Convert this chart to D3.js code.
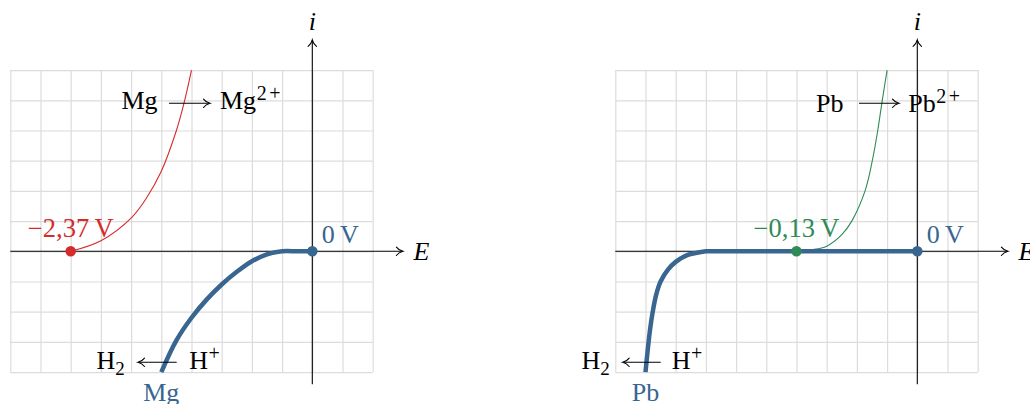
<!DOCTYPE html>
<html>
<head>
<meta charset="utf-8">
<script src="https://cdn.jsdelivr.net/npm/d3@7/dist/d3.min.js"></script>
<style>
  html, body { margin: 0; padding: 0; background: #fff; }
  svg { display: block; }
  text { font-family: "Liberation Serif", "DejaVu Serif", serif; }
</style>
</head>
<body>
<svg id="chart" width="1030" height="404"></svg>
<script>
// Grid ticks (in grid units) shared by both panels
const gridXTicks = [-10, -9, -8, -7, -6, -5, -4, -3, -2, -1, 0, 1, 2];
const gridYTicks = [-4, -3, -2, -1, 0, 1, 2, 3, 4, 5, 6];
const axisXExtent = [-10, 3];
const axisYExtent = [-4.4, 7];

// Magnesium panel: oxidation of Mg and reduction of H+ on Mg
const mgOxidation = [[-8, 0], [-7, 0.35], [-6, 1.1], [-5.5, 1.75], [-5, 2.65], [-4.5, 4], [-4.25, 4.9], [-4, 6]];
const mgReduction = [[-5, -4], [-4.5, -2.95], [-4, -2.2], [-3.5, -1.6], [-3, -1.1], [-2.5, -0.68], [-2, -0.33], [-1.5, -0.1], [-1, 0], [-0.5, 0], [0, 0]];
const mgPotential = { x: -8, label: "\u22122,37\u2009V" };

// Lead panel: oxidation of Pb and reduction of H+ on Pb
const pbOxidation = [[-4, 0], [-3.5, 0.05], [-3, 0.17], [-2.5, 0.55], [-2.17, 1], [-1.73, 2], [-1.49, 3], [-1.31, 4], [-1.16, 5], [-1, 6]];
const pbReduction = [[-9, -4], [-8.93, -3.3], [-8.85, -2.6], [-8.76, -2], [-8.65, -1.45], [-8.5, -1], [-8.25, -0.6], [-8, -0.35], [-7.6, -0.12], [-7.3, -0.05], [-7, 0], [-6.5, 0], [0, 0]];
const pbPotential = { x: -4, label: "\u22120,13\u2009V" };

const hydrogenPotential = { x: 0, label: "0\u2009V" };

const RED = "#d42b2b", GREEN = "#2e8b57", BLUE = "#386690", GRID = "#dcdcdc";
const UNIT = 30.2;
const svg = d3.select("#chart");

function drawArrowHead(g, x, y, angle) {
  // small curved "to" arrow tip, pointing along angle (deg)
  g.append("path")
    .attr("d", "M-6.5,-4.2 C-4.5,-1.6 -1.5,-0.4 0,0 C-1.5,0.4 -4.5,1.6 -6.5,4.2")
    .attr("fill", "none").attr("stroke", "#000").attr("stroke-width", 1.1)
    .attr("stroke-linecap", "round")
    .attr("transform", `translate(${x},${y}) rotate(${angle})`);
}

function superscript(textSel, s) {
  textSel.append("tspan").attr("dy", -9).attr("dx", 0.5).attr("font-size", 20)
    .attr("letter-spacing", 2.5).text(s);
}

function drawPanel(cfg) {
  const x = d3.scaleLinear().domain([0, 1]).range([cfg.ox, cfg.ox + UNIT]);
  const y = d3.scaleLinear().domain([0, 1]).range([cfg.oy, cfg.oy - UNIT]);
  const g = svg.append("g");

  const gx0 = d3.min(gridXTicks), gx1 = d3.max(gridXTicks);
  const gy0 = d3.min(gridYTicks), gy1 = d3.max(gridYTicks);

  // grid from the library's axes
  const vGrid = g.append("g").attr("transform", `translate(0,${y(gy0)})`)
    .call(d3.axisBottom(x).tickValues(gridXTicks).tickSize(-(y(gy0) - y(gy1))).tickFormat(""));
  const hGrid = g.append("g").attr("transform", `translate(${x(gx0)},0)`)
    .call(d3.axisLeft(y).tickValues(gridYTicks).tickSize(-(x(gx1) - x(gx0))).tickFormat(""));
  [vGrid, hGrid].forEach(a => {
    a.select(".domain").remove();
    a.selectAll("line").attr("stroke", GRID).attr("stroke-width", 1.2);
  });

  // axes
  g.append("line").attr("x1", x(axisXExtent[0])).attr("x2", x(axisXExtent[1]) - 0.5)
    .attr("y1", y(0)).attr("y2", y(0)).attr("stroke", "#000").attr("stroke-width", 1.1);
  drawArrowHead(g, x(axisXExtent[1]), y(0), 0);
  g.append("line").attr("x1", x(0)).attr("x2", x(0))
    .attr("y1", y(axisYExtent[0])).attr("y2", y(axisYExtent[1]) + 0.5)
    .attr("stroke", "#000").attr("stroke-width", 1.1);
  drawArrowHead(g, x(0), y(axisYExtent[1]), -90);

  g.append("text").attr("x", x(0)).attr("y", 29.5).attr("text-anchor", "middle")
    .attr("font-style", "italic").attr("font-size", 26).text("i");
  g.append("text").attr("x", x(axisXExtent[1]) + 10.5).attr("y", 260).attr("text-anchor", "start")
    .attr("font-style", "italic").attr("font-size", 26).text("E");

  const line = d3.line().x(d => x(d[0])).y(d => y(d[1])).curve(d3.curveCatmullRom.alpha(0.5));

  // oxidation curve of the metal
  g.append("path").datum(cfg.oxidation).attr("d", line)
    .attr("fill", "none").attr("stroke", cfg.color).attr("stroke-width", 1.1);
  // reduction of H+ on the metal
  g.append("path").datum(cfg.reduction).attr("d", line)
    .attr("fill", "none").attr("stroke", BLUE).attr("stroke-width", 4.5)
    .attr("stroke-linecap", "butt");

  // points
  g.append("circle").attr("cx", x(cfg.potential.x)).attr("cy", y(0)).attr("r", 5.3).attr("fill", cfg.color);
  g.append("circle").attr("cx", x(hydrogenPotential.x)).attr("cy", y(0)).attr("r", 5.3).attr("fill", BLUE);

  g.append("text").attr("x", x(cfg.potential.x)).attr("y", 237).attr("text-anchor", "middle")
    .attr("font-size", 26.5).attr("fill", cfg.color).text(cfg.potential.label);
  g.append("text").attr("x", x(hydrogenPotential.x) + 9.5).attr("y", 243).attr("text-anchor", "start")
    .attr("font-size", 26).attr("fill", BLUE).text(hydrogenPotential.label);

  // oxidation equation
  const ox = cfg.oxText;
  g.append("text").attr("x", ox.x0).attr("y", ox.base).attr("font-size", 26).text(cfg.metal);
  g.append("line").attr("x1", ox.a0).attr("x2", ox.a1 - 1).attr("y1", 103.3).attr("y2", 103.3)
    .attr("stroke", "#000").attr("stroke-width", 1.1);
  drawArrowHead(g, ox.a1, 103.3, 0);
  const ion = g.append("text").attr("x", ox.x1).attr("y", ox.base).attr("font-size", 26);
  ion.append("tspan").text(cfg.metal);
  superscript(ion, "2+");

  // reduction equation
  const rd = cfg.redText;
  const h2 = g.append("text").attr("x", rd.x0).attr("y", 369).attr("font-size", 26);
  h2.append("tspan").text("H");
  h2.append("tspan").attr("dy", 6).attr("font-size", 19).text("2");
  g.append("line").attr("x1", rd.a0 + 1).attr("x2", rd.a1).attr("y1", 362.3).attr("y2", 362.3)
    .attr("stroke", "#000").attr("stroke-width", 1.1);
  drawArrowHead(g, rd.a0, 362.3, 180);
  const hp = g.append("text").attr("x", rd.x1).attr("y", 369).attr("font-size", 26);
  hp.append("tspan").text("H");
  superscript(hp, "+");

  // electrode label under the reduction curve
  const foot = cfg.reduction[0];
  g.append("text").attr("x", x(foot[0])).attr("y", 400.5).attr("text-anchor", "middle")
    .attr("font-size", 26).attr("fill", BLUE).text(cfg.metal);
}

drawPanel({
  ox: 312.3, oy: 251.3, metal: "Mg", color: RED,
  oxidation: mgOxidation, reduction: mgReduction, potential: mgPotential,
  oxText: { x0: 121.5, base: 109, a0: 169, a1: 210, x1: 220 },
  redText: { x0: 96.5, a0: 138, a1: 176.7, x1: 189.3 }
});
drawPanel({
  ox: 917.3, oy: 251.3, metal: "Pb", color: GREEN,
  oxidation: pbOxidation, reduction: pbReduction, potential: pbPotential,
  oxText: { x0: 816, base: 112, a0: 859, a1: 899, x1: 908.3 },
  redText: { x0: 581.5, a0: 622.7, a1: 660.7, x1: 671.7 }
});
</script>
</body>
</html>
